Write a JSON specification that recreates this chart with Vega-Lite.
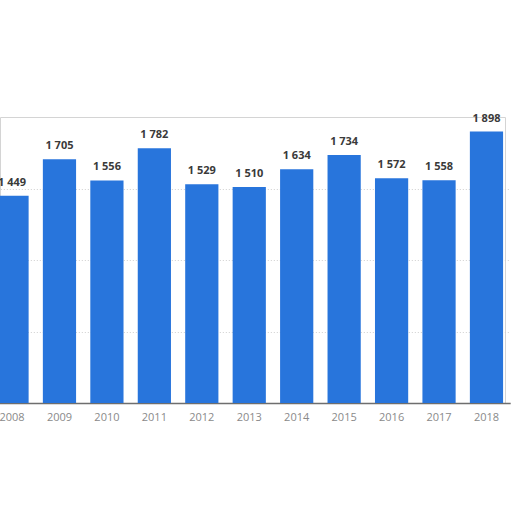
{
  "$schema": "https://vega.github.io/schema/vega-lite/v6.json",
  "autosize": "none",
  "width": 505,
  "height": 286,
  "padding": {"left": 0, "top": 117, "right": 7, "bottom": 109},
  "background": "white",
  "config": {
    "locale": {
      "number": {"decimal": ".", "thousands": " ", "grouping": [3], "currency": ["", ""]}
    },
    "view": {"stroke": "#d4d4d4", "strokeWidth": 1},
    "font": "Open Sans"
  },
  "data": {
    "values": [
      {"year": "2008", "value": 1449},
      {"year": "2009", "value": 1705},
      {"year": "2010", "value": 1556},
      {"year": "2011", "value": 1782},
      {"year": "2012", "value": 1529},
      {"year": "2013", "value": 1510},
      {"year": "2014", "value": 1634},
      {"year": "2015", "value": 1734},
      {"year": "2016", "value": 1572},
      {"year": "2017", "value": 1558},
      {"year": "2018", "value": 1898}
    ]
  },
  "encoding": {
    "x": {
      "field": "year",
      "type": "ordinal",
      "scale": {"range": [-11.7, 510.2], "paddingInner": 0.3, "paddingOuter": 0.15},
      "axis": {
        "title": null,
        "labelAngle": 0,
        "ticks": false,
        "labelColor": "#8a8a8a",
        "labelFontSize": 11,
        "labelPadding": 8,
        "domainColor": "#6e6e6e",
        "domainWidth": 1.5,
        "grid": false
      }
    },
    "y": {
      "field": "value",
      "type": "quantitative",
      "scale": {"domain": [0, 2000], "nice": false},
      "axis": {
        "title": null,
        "labels": false,
        "ticks": false,
        "domain": false,
        "values": [500, 1000, 1500],
        "gridColor": "#cfcfcf",
        "gridDash": [1, 2],
        "gridWidth": 1
      }
    }
  },
  "layer": [
    {
      "mark": {"type": "bar", "color": "#2875dc", "clip": true}
    },
    {
      "mark": {
        "type": "text",
        "baseline": "bottom",
        "dy": -8,
        "fontWeight": "bold",
        "fontSize": 11,
        "color": "#3a3a3a",
        "clip": false
      },
      "encoding": {
        "text": {"field": "value", "type": "quantitative", "format": ",d"}
      }
    }
  ]
}
